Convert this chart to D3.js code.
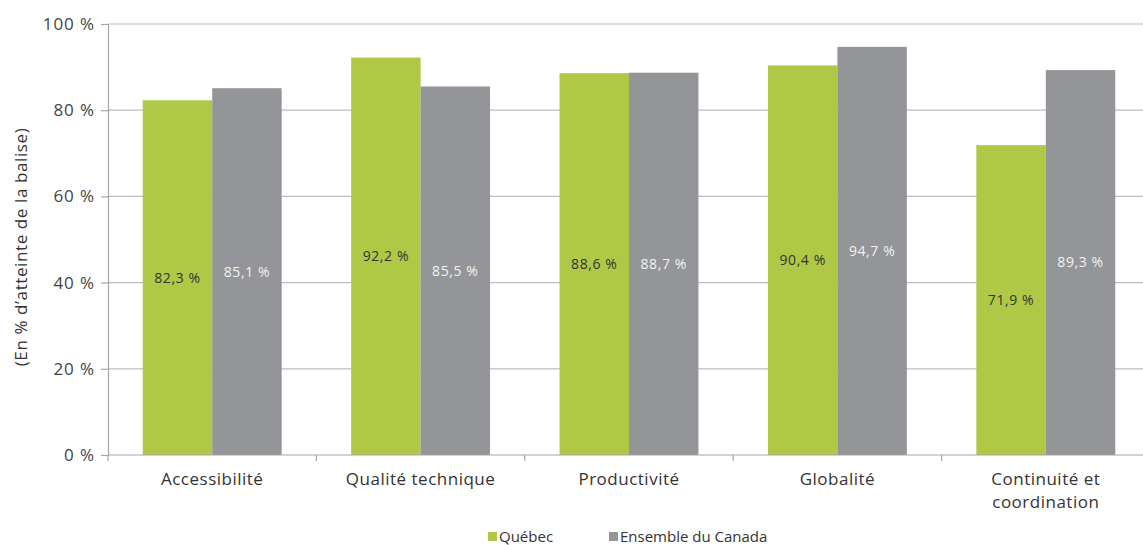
<!DOCTYPE html>
<html><head><meta charset="utf-8">
<script src="https://cdn.jsdelivr.net/npm/d3@7"></script>
<style>body{margin:0;background:#fff}svg{display:block}text{font-family:"Open Sans",sans-serif}</style>
</head><body><svg id="c" width="1143" height="545"></svg>
<script>
const categories = ["Accessibilité", "Qualité technique", "Productivité", "Globalité", "Continuité et\ncoordination"];
const seriesNames = ["Québec", "Ensemble du Canada"];
const quebec = [82.3, 92.2, 88.6, 90.4, 71.9];
const canada = [85.1, 85.5, 88.7, 94.7, 89.3];
const yTicks = [0, 20, 40, 60, 80, 100];
const colors = ["#afc947", "#939598"];
const labelColors = ["#333333", "#f2f2f2"];

const svg = d3.select("#c");
const m = {l: 108, r: 1150, t: 24, b: 455};
const x = d3.scaleBand().domain(categories).range([m.l, m.r]).paddingInner(0).paddingOuter(0);
const xs = d3.scaleBand().domain(seriesNames).range([0, x.bandwidth()]).paddingInner(0).paddingOuter(0.5);
const y = d3.scaleLinear().domain([0, 100]).range([m.b, m.t]);
const fmt = v => d3.format(".1f")(v).replace(".", ",") + " %";

// gridlines
svg.append("g").selectAll("line").data(yTicks.filter(d => d > 0)).join("line")
  .attr("x1", m.l).attr("x2", m.r).attr("y1", d => y(d)).attr("y2", d => y(d))
  .attr("stroke", "#bdbdbd").attr("stroke-width", 1.2);

// y axis
const ya = svg.append("g").attr("transform", `translate(${m.l},0)`)
  .call(d3.axisLeft(y).tickValues(yTicks).tickSize(7).tickFormat(d => d + " %"));
ya.select(".domain").attr("stroke", "#a6a6a6").attr("stroke-width", 1.2);
ya.selectAll(".tick line").attr("stroke", "#a6a6a6").attr("stroke-width", 1.2);
ya.selectAll(".tick text").attr("font-size", 17).attr("letter-spacing", 0.9).attr("fill", "#444").attr("x", -13);

// bars
const data = categories.map((c, i) => ({c, v: [quebec[i], canada[i]]}));
const g = svg.append("g");
data.forEach(d => {
  seriesNames.forEach((s, j) => {
    const v = d.v[j];
    g.append("rect").attr("x", x(d.c) + xs(s)).attr("width", xs.bandwidth())
      .attr("y", y(v)).attr("height", y(0) - y(v)).attr("fill", colors[j]);
    g.append("text").attr("x", x(d.c) + xs(s) + xs.bandwidth() / 2)
      .attr("y", (y(v) + y(0)) / 2).attr("dy", "0.35em").attr("text-anchor", "middle")
      .attr("font-size", 14).attr("letter-spacing", 0.6).attr("fill", labelColors[j]).text(fmt(v));
  });
});

// x axis
const xa = svg.append("g").attr("transform", `translate(0,${m.b})`);
xa.append("line").attr("x1", m.l).attr("x2", m.r).attr("stroke", "#a6a6a6").attr("stroke-width", 1.2);
const bounds = categories.map(c => x(c)).concat([m.r]);
xa.selectAll("line.tk").data(bounds).join("line").attr("class", "tk")
  .attr("x1", d => d).attr("x2", d => d).attr("y1", 0).attr("y2", 6)
  .attr("stroke", "#a6a6a6").attr("stroke-width", 1.2);
categories.forEach(c => {
  const t = xa.append("text").attr("text-anchor", "middle").attr("font-size", 17)
    .attr("letter-spacing", 0.5).attr("fill", "#333");
  c.split("\n").forEach((ln, k) => {
    t.append("tspan").attr("x", x(c) + x.bandwidth() / 2).attr("y", 30 + k * 23).text(ln);
  });
});

// y title
svg.append("text").attr("transform", `translate(27,247) rotate(-90)`)
  .attr("text-anchor", "middle").attr("font-size", 17).attr("letter-spacing", 0.6).attr("fill", "#333")
  .text("(En % d’atteinte de la balise)");

// legend
const legX = [488, 609];
seriesNames.forEach((s, j) => {
  svg.append("rect").attr("x", legX[j]).attr("y", 532).attr("width", 9).attr("height", 9).attr("fill", colors[j]);
  svg.append("text").attr("x", legX[j] + 11).attr("y", 542).attr("font-size", 15).attr("fill", "#333").text(s);
});
</script></body></html>
